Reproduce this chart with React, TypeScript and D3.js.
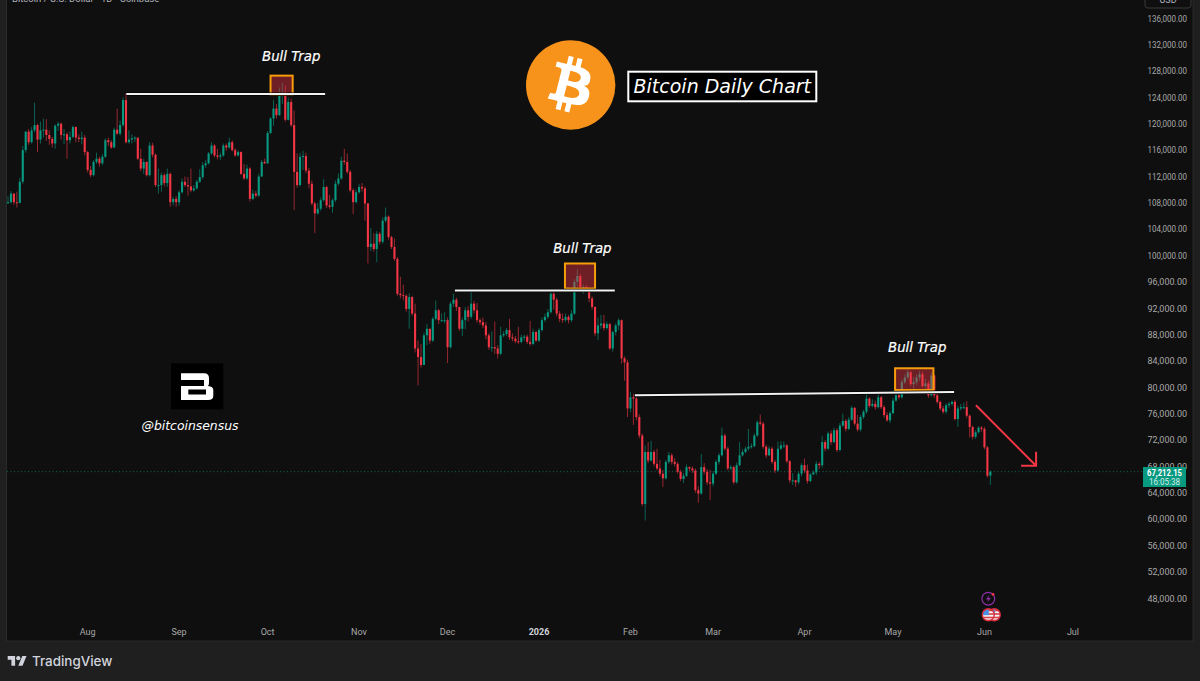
import React from "react";
import { scaleLinear, timeDay, format, range } from "d3";

// daily candles, in thousands of USD, first candle is 5 Jul 2025
const firstOpen = 108.0;
const closes = [
  108.1, 109.4, 108.1, 108.0, 111.2, 116.0, 118.8, 117.2, 119.0, 119.8,
  117.6, 119.0, 119.1, 118.3, 117.7, 117.0, 119.7, 120.0, 118.3, 118.4,
  117.5, 118.0, 119.5, 117.9, 117.7, 117.9, 115.7, 113.0, 112.2, 114.2,
  114.7, 114.0, 115.0, 117.5, 117.2, 116.4, 119.1, 118.5, 119.8, 123.6,
  117.2, 117.6, 117.8, 117.9, 114.7, 113.2, 114.2, 112.2, 116.7, 115.3,
  110.7, 110.7, 112.2, 111.0, 112.4, 108.1, 108.6, 108.1, 109.6, 111.2,
  110.7, 110.5, 109.9, 110.2, 111.2, 111.9, 113.7, 114.0, 115.5, 116.7,
  115.2, 115.0, 115.2, 116.7, 116.4, 117.2, 116.0, 115.2, 115.7, 112.4,
  111.7, 113.2, 108.6, 109.4, 109.1, 112.0, 114.2, 114.0, 118.6, 120.8,
  122.3, 121.3, 124.3, 124.8, 120.6, 123.3, 119.8, 112.7, 110.7, 115.0,
  115.1, 112.9, 110.9, 107.9, 106.4, 107.1, 108.4, 110.4, 107.6, 107.4,
  108.4, 110.9, 111.7, 114.4, 114.2, 112.7, 109.9, 108.1, 109.6, 110.4,
  110.2, 107.9, 101.3, 101.8, 101.0, 103.3, 102.1, 105.3, 105.9, 102.8,
  101.3, 99.5, 94.2, 94.0, 93.9, 91.9, 93.7, 91.2, 85.9, 84.6,
  83.4, 87.9, 88.9, 87.1, 90.4, 91.7, 90.2, 90.2, 90.2, 86.1,
  92.7, 93.3, 92.2, 88.9, 90.2, 91.7, 90.7, 92.7, 91.7, 90.2,
  89.9, 89.4, 87.9, 86.1, 86.1, 85.9, 85.1, 87.9, 88.1, 88.7,
  87.6, 87.4, 87.0, 86.9, 87.6, 87.7, 86.9, 86.6, 88.4, 87.1,
  88.7, 90.2, 90.7, 91.4, 94.2, 93.3, 91.2, 90.4, 90.2, 90.7,
  90.2, 91.2, 96.0, 96.9, 95.2, 95.2, 95.0, 93.5, 92.2, 88.2,
  89.4, 89.7, 89.0, 89.6, 85.9, 88.4, 89.4, 90.2, 84.4, 83.8,
  76.8, 78.5, 78.3, 75.5, 72.7, 62.3, 70.2, 68.9, 70.2, 68.4,
  67.7, 66.9, 66.2, 68.7, 69.7, 68.7, 68.4, 67.2, 66.1, 66.6,
  67.9, 67.7, 67.4, 64.4, 63.9, 67.9, 67.2, 65.6, 65.4, 66.9,
  68.7, 69.7, 72.7, 70.7, 67.7, 67.9, 65.6, 68.2, 69.7, 70.2,
  70.7, 71.0, 71.1, 72.7, 74.7, 74.5, 71.0, 69.7, 70.7, 68.7,
  67.4, 70.7, 71.2, 71.2, 68.8, 65.9, 65.9, 65.6, 66.9, 68.2,
  67.4, 65.8, 66.8, 67.1, 68.4, 68.2, 71.7, 70.7, 73.0, 71.7,
  73.5, 70.5, 74.2, 74.9, 73.7, 75.1, 76.9, 74.5, 73.6, 75.5,
  76.3, 78.3, 77.2, 77.5, 77.0, 78.5, 77.0, 75.8, 75.0, 76.1,
  78.0, 78.8, 78.5, 80.8, 81.5, 82.3, 80.5, 80.8, 81.5, 82.0,
  80.2, 80.6, 78.8, 81.8, 78.8, 77.8, 76.8, 76.3, 77.3, 77.5,
  77.8, 75.2, 76.8, 77.0, 77.0, 75.7, 74.0, 72.5, 73.2, 73.9,
  73.7, 70.9, 66.6, 67.212,
];
const highs = [
  109.0, 109.8, 109.5, 109.7, 111.8, 116.6, 118.9, 119.2, 119.5, 123.2,
  120.0, 120.3, 120.8, 120.7, 119.0, 118.0, 119.9, 120.3, 120.2, 119.2,
  118.7, 118.8, 119.7, 119.6, 118.4, 118.8, 118.3, 115.9, 113.6, 114.5,
  115.6, 115.0, 115.4, 117.8, 117.9, 117.5, 119.4, 122.3, 120.5, 124.0,
  124.6, 119.0, 118.4, 118.1, 117.7, 116.2, 114.7, 114.3, 117.2, 117.1,
  115.5, 113.2, 112.6, 112.5, 113.2, 112.6, 108.9, 109.0, 109.9, 111.7,
  112.0, 111.9, 113.2, 110.7, 111.5, 113.1, 114.2, 114.5, 115.7, 117.2,
  116.9, 116.2, 115.6, 117.0, 117.0, 117.9, 117.5, 116.3, 116.0, 115.8,
  113.9, 113.8, 113.4, 110.0, 109.8, 112.4, 114.5, 114.7, 118.9, 121.0,
  123.6, 123.0, 125.5, 126.2, 125.8, 124.0, 123.8, 122.0, 115.5, 115.6,
  115.9, 115.6, 113.3, 111.4, 108.2, 108.0, 108.8, 111.6, 110.6, 109.2,
  108.7, 111.4, 112.5, 115.0, 116.2, 115.5, 113.0, 110.2, 110.0, 110.9,
  111.0, 110.5, 108.0, 104.2, 103.4, 103.7, 103.6, 105.8, 107.3, 106.1,
  103.0, 102.6, 99.8, 96.8, 95.6, 94.1, 94.3, 93.9, 92.7, 87.1,
  86.6, 88.3, 89.6, 88.2, 90.7, 93.2, 91.9, 91.2, 91.4, 90.6,
  93.0, 94.2, 93.6, 92.0, 90.6, 92.2, 92.3, 94.5, 93.1, 92.8,
  90.5, 90.6, 89.9, 88.2, 88.5, 90.0, 86.4, 89.2, 88.5, 89.0,
  90.4, 88.2, 87.8, 89.2, 88.0, 88.0, 88.0, 90.1, 88.9, 88.6,
  89.0, 90.6, 91.2, 91.9, 94.8, 94.6, 93.6, 91.6, 91.2, 91.2,
  91.0, 91.7, 96.4, 97.9, 97.2, 95.6, 95.5, 95.2, 93.8, 92.3,
  90.6, 91.0, 91.0, 90.0, 89.8, 88.6, 89.7, 90.5, 90.3, 84.7,
  84.2, 79.3, 79.0, 79.0, 75.9, 73.0, 71.2, 71.7, 71.9, 70.5,
  70.7, 69.0, 67.5, 69.0, 70.2, 70.0, 69.3, 68.7, 67.5, 67.0,
  68.3, 68.0, 68.0, 67.7, 65.0, 69.9, 68.5, 67.6, 67.5, 67.3,
  69.0, 70.0, 73.9, 73.0, 71.0, 68.2, 68.1, 68.6, 71.7, 70.6,
  71.0, 73.7, 71.5, 73.0, 75.0, 75.9, 74.8, 71.3, 71.1, 71.0,
  69.0, 71.8, 71.8, 71.8, 71.4, 69.0, 67.0, 66.0, 67.2, 68.5,
  69.2, 68.3, 67.0, 67.4, 68.8, 68.7, 72.6, 72.0, 73.3, 73.5,
  73.9, 73.8, 74.6, 76.0, 75.2, 75.5, 77.2, 77.0, 75.8, 75.8,
  76.6, 79.3, 78.5, 78.2, 78.0, 79.3, 78.7, 77.3, 76.2, 76.4,
  78.4, 79.1, 79.5, 81.2, 82.0, 82.7, 82.5, 81.6, 82.0, 82.5,
  82.4, 81.3, 81.0, 82.3, 82.0, 79.0, 78.0, 77.2, 77.6, 77.8,
  78.0, 78.1, 77.2, 77.5, 77.7, 77.9, 75.9, 74.2, 73.5, 74.1,
  74.1, 74.0, 71.1, 67.4,
];
const lows = [
  107.8, 107.9, 107.7, 107.3, 107.9, 110.9, 115.6, 116.8, 117.0, 118.7,
  115.7, 117.0, 117.9, 117.4, 116.8, 116.4, 116.2, 118.9, 117.6, 116.9,
  114.7, 117.0, 117.8, 117.2, 117.2, 116.9, 115.2, 112.6, 111.9, 112.0,
  113.9, 113.5, 113.7, 114.8, 116.6, 116.2, 116.3, 118.3, 118.2, 119.5,
  117.0, 117.0, 117.0, 117.2, 114.5, 112.8, 112.4, 112.0, 112.0, 114.9,
  110.4, 109.4, 109.7, 110.5, 110.4, 107.4, 107.6, 107.4, 107.6, 109.4,
  110.4, 109.1, 109.6, 109.7, 110.0, 111.0, 111.6, 113.3, 113.8, 115.3,
  114.9, 114.6, 114.5, 115.0, 115.9, 116.2, 115.8, 115.0, 115.0, 112.2,
  111.5, 111.5, 108.2, 108.4, 108.8, 108.9, 111.9, 113.9, 113.9, 118.4,
  119.7, 120.8, 121.2, 123.0, 120.3, 120.5, 119.5, 106.9, 110.3, 110.5,
  113.0, 112.5, 110.2, 107.6, 103.4, 106.2, 106.8, 108.2, 107.2, 107.1,
  106.5, 108.1, 110.6, 111.5, 113.8, 112.4, 109.6, 106.3, 107.9, 109.4,
  109.7, 105.3, 98.8, 100.7, 100.6, 99.0, 101.7, 101.8, 105.0, 102.4,
  101.0, 99.2, 93.9, 93.5, 93.2, 91.5, 88.9, 90.9, 85.3, 80.3,
  83.0, 84.4, 86.4, 86.6, 86.9, 90.2, 89.6, 89.9, 89.7, 83.7,
  85.9, 92.2, 91.6, 88.6, 87.8, 88.8, 90.0, 90.4, 91.2, 89.8,
  89.5, 89.0, 87.3, 85.7, 85.4, 85.1, 84.4, 84.9, 87.6, 87.8,
  87.2, 87.0, 86.7, 86.6, 86.7, 87.1, 86.6, 86.3, 86.4, 86.9,
  86.9, 88.5, 89.9, 90.4, 91.2, 91.8, 90.8, 89.9, 89.8, 89.9,
  89.7, 89.9, 91.0, 95.3, 94.8, 94.2, 94.5, 92.9, 91.8, 87.8,
  87.2, 88.9, 88.6, 88.8, 85.7, 85.4, 87.9, 88.7, 83.6, 81.0,
  75.5, 76.2, 74.3, 75.0, 72.3, 62.0, 59.8, 68.5, 68.7, 68.0,
  67.4, 66.5, 64.9, 66.0, 68.4, 68.3, 68.0, 66.9, 65.8, 65.5,
  66.4, 67.3, 67.0, 64.0, 62.5, 63.7, 66.8, 65.2, 62.9, 65.0,
  66.7, 68.3, 69.5, 70.4, 67.4, 67.4, 65.3, 65.4, 68.0, 69.5,
  70.0, 70.4, 70.7, 70.9, 72.5, 74.2, 70.7, 69.3, 69.6, 68.4,
  67.0, 67.2, 70.5, 70.8, 68.5, 65.5, 65.2, 64.9, 65.3, 66.5,
  67.0, 65.4, 65.6, 66.7, 66.7, 67.6, 67.8, 70.3, 70.5, 71.3,
  71.5, 70.2, 70.3, 74.0, 73.3, 73.5, 74.9, 74.2, 73.3, 73.3,
  75.2, 76.0, 76.9, 77.0, 76.6, 76.8, 76.7, 75.4, 74.8, 74.6,
  75.9, 77.8, 78.2, 78.3, 80.5, 81.2, 80.2, 79.7, 80.4, 81.0,
  80.0, 79.8, 78.4, 78.6, 78.4, 77.5, 76.5, 76.0, 76.0, 76.9,
  77.2, 75.0, 74.0, 76.5, 76.7, 75.4, 72.4, 72.1, 72.2, 73.0,
  73.3, 70.6, 66.3, 65.2,
];
const priceTicks = range(48, 137, 4);
const months = [
  { label: "Aug", date: new Date(2025, 7, 1) },
  { label: "Sep", date: new Date(2025, 8, 1) },
  { label: "Oct", date: new Date(2025, 9, 1) },
  { label: "Nov", date: new Date(2025, 10, 1) },
  { label: "Dec", date: new Date(2025, 11, 1) },
  { label: "2026", date: new Date(2026, 0, 1), bold: true },
  { label: "Feb", date: new Date(2026, 1, 1) },
  { label: "Mar", date: new Date(2026, 2, 1) },
  { label: "Apr", date: new Date(2026, 3, 1) },
  { label: "May", date: new Date(2026, 4, 1) },
  { label: "Jun", date: new Date(2026, 5, 1) },
  { label: "Jul", date: new Date(2026, 6, 1) },
];
const lastPrice = 67.212;
const lastPriceLabel = "67,212.15";
const countdown = "16:05:38";
// drawings, placed in candle index / price
const levels = [
  { from: 40.1, to: 107.5, p0: 124.5, p1: 124.5 },
  { from: 151.5, to: 205.7, p0: 94.7, p1: 94.7 },
  { from: 212.5, to: 320.7, p0: 78.8, p1: 79.3 },
];
const traps = [
  { from: 89, to: 96.5, hi: 127.3, lo: 124.4, lx: 96, lp: 129.5 },
  { from: 188.8, to: 199, hi: 98.8, lo: 95.0, lx: 194.7, lp: 100.4 },
  { from: 300.7, to: 313.7, hi: 82.9, lo: 79.6, lx: 308.2, lp: 85.4 },
];
const drop = { from: 328.1, to: 348.5, p0: 77.3, p1: 68.1 };

const START = new Date(2025, 6, 5);
const x = scaleLinear().domain([0, 361]).range([8, 8 + 361 * 2.95]);
const y = scaleLinear().domain([136, 48]).range([18.3, 598.3]);
const UP = "#089981";
const DOWN = "#f23645";
const fmt = format(",.2f");
const ITALIC = "'DejaVu Sans', sans-serif";

const BTC_B =
  "M46.103,27.444c0.637-4.258-2.605-6.547-7.038-8.074l1.438-5.768l-3.511-0.875l-1.4,5.616c-0.923-0.23-1.871-0.447-2.813-0.662l1.41-5.653l-3.509-0.875l-1.439,5.766c-0.764-0.174-1.514-0.348-2.242-0.529l0.004-0.018l-4.842-1.209l-0.934,3.75c0,0,2.605,0.597,2.55,0.634c1.422,0.355,1.679,1.296,1.636,2.042l-1.638,6.571c0.098,0.025,0.225,0.061,0.365,0.117c-0.117-0.029-0.242-0.059-0.371-0.09l-2.296,9.205c-0.174,0.432-0.615,1.08-1.609,0.834c0.035,0.051-2.552-0.637-2.552-0.637l-1.743,4.019l4.569,1.139c0.85,0.213,1.683,0.436,2.503,0.646l-1.453,5.834l3.507,0.875l1.439-5.772c0.958,0.26,1.888,0.5,2.798,0.732l-1.434,5.745l3.511,0.875l1.453-5.823c5.987,1.133,10.489,0.676,12.384-4.739c1.527-4.36-0.076-6.875-3.226-8.515C44.036,32.8,45.782,31.118,46.103,27.444L46.103,27.444z M38.081,38.693c-1.085,4.36-8.426,2.003-10.806,1.412l1.928-7.729C31.583,32.97,39.214,34.143,38.081,38.693z M39.167,27.381c-0.99,3.966-7.1,1.951-9.082,1.457l1.748-7.01C33.815,22.322,40.205,23.246,39.167,27.381z";

const Flag = ({ cx, cy, id }: { cx: number; cy: number; id: string }) => (
  <g>
    <clipPath id={id}>
      <circle cx={cx} cy={cy} r={6} />
    </clipPath>
    <g clipPath={`url(#${id})`}>
      <rect x={cx - 6} y={cy - 6} width={12} height={12} fill="#f4f4f4" />
      {[-5, -1.5, 2, 5].map((d) => (
        <rect key={d} x={cx - 6} y={cy + d} width={12} height={1.6} fill="#d8404a" />
      ))}
      <rect x={cx - 6} y={cy - 6} width={6.5} height={6.5} fill="#4a8fe0" />
    </g>
    <circle cx={cx} cy={cy} r={6} fill="none" stroke="#d92b3a" strokeWidth={1.4} />
  </g>
);

const App = () => {
  const candles = closes.map((c, i) => {
    const o = i === 0 ? firstOpen : closes[i - 1];
    return { i, o, c, h: Math.max(highs[i], o, c), l: Math.min(lows[i], o, c) };
  });
  return (
    <div>
      <style>{"body{margin:0;background:#1f1f1f}"}</style>
      <svg width={1200} height={681} style={{ display: "block" }} fontFamily="Roboto, sans-serif">
        <rect width={1200} height={681} fill="#1f1f1f" />
        <rect x={6.5} y={-2} width={1186.5} height={643} fill="#0f0f0f" stroke="#2b2b2b" />

        <text x={12} y={1.5} fontSize={9.5} fill="#b2b5be">
          Bitcoin / U.S. Dollar · 1D · Coinbase
        </text>
        <rect x={1145} y={-12} width={46} height={20} rx={3} fill="none" stroke="#3a3a3a" />
        <text x={1168} y={3} fontSize={9} fill="#b2b5be" textAnchor="middle">
          USD
        </text>

        {/* price axis */}
        {priceTicks.map((p) => (
          <text key={p} x={1187} y={y(p) + 3.2} fontSize={9} fill="#a8a8a8" textAnchor="end" textLength={39.5} lengthAdjust="spacingAndGlyphs">
            {fmt(p * 1000)}
          </text>
        ))}
        {/* time axis */}
        {months.map((m) => (
          <text
            key={m.label}
            x={x(timeDay.count(START, m.date))}
            y={635}
            fontSize={9}
            fontWeight={m.bold ? 700 : 400}
            fill={m.bold ? "#d1d4dc" : "#a8a8a8"}
            textAnchor="middle"
          >
            {m.label}
          </text>
        ))}

        {/* last price line */}
        <line x1={7} x2={1143} y1={y(lastPrice)} y2={y(lastPrice)} stroke={UP} strokeWidth={0.8} strokeDasharray="1 2.5" opacity={0.8} />

        {/* candles */}
        {candles.map((d) => {
          const color = d.c >= d.o ? UP : DOWN;
          const top = y(Math.max(d.o, d.c));
          const bot = y(Math.min(d.o, d.c));
          return (
            <g key={d.i}>
              <line x1={x(d.i)} x2={x(d.i)} y1={y(d.h)} y2={y(d.l)} stroke={color} strokeWidth={1} opacity={0.6} />
              <rect x={x(d.i) - 1.05} width={2.1} y={top} height={Math.max(bot - top, 1)} fill={color} />
            </g>
          );
        })}

        {/* bull trap boxes */}
        {traps.map((t) => (
          <g key={t.lx}>
            <rect x={x(t.from)} width={x(t.to) - x(t.from)} y={y(t.hi)} height={y(t.lo) - y(t.hi)} fill="rgba(242,54,69,0.42)" stroke="#f59d0b" strokeWidth={2} />
            <text x={x(t.lx)} y={y(t.lp)} fontSize={13.3} fontStyle="italic" fontFamily={ITALIC} fill="#fff" stroke="#fff" strokeWidth={0.2} textAnchor="middle">
              Bull Trap
            </text>
          </g>
        ))}
        {/* levels */}
        {levels.map((l) => (
          <g key={l.from}>
            <line x1={x(l.from)} x2={x(l.to)} y1={y(l.p0)} y2={y(l.p1)} stroke="#000" strokeWidth={3.4} />
            <line x1={x(l.from)} x2={x(l.to)} y1={y(l.p0)} y2={y(l.p1)} stroke="#f2f2f2" strokeWidth={2} />
          </g>
        ))}
        {/* arrow */}
        <path
          d={`M${x(drop.from)},${y(drop.p0)}L${x(drop.to)},${y(drop.p1)}M${x(drop.to)},${y(drop.p1) - 14}V${y(drop.p1)}H${x(drop.to) - 15}`}
          fill="none"
          stroke={DOWN}
          strokeWidth={2}
        />

        {/* last price tag */}
        <rect x={1143} y={467} width={43} height={20} fill={UP} />
        <text x={1164.5} y={476} fontSize={9} fontWeight={700} fill="#fff" textAnchor="middle" textLength={35} lengthAdjust="spacingAndGlyphs">
          {lastPriceLabel}
        </text>
        <text x={1164.5} y={485} fontSize={9} fill="#d6efe9" textAnchor="middle" textLength={31} lengthAdjust="spacingAndGlyphs">
          {countdown}
        </text>

        {/* bitcoin logo and title */}
        <circle cx={570.7} cy={85} r={44.7} fill="#f7931a" />
        <path d={BTC_B} fill="#fff" transform="translate(526,40.3) scale(1.396)" />
        <rect x={628.3} y={71.7} width={188} height={29.6} fill="#000" stroke="#fff" strokeWidth={2} />
        <text x={722.3} y={93.3} fontSize={19} fontStyle="italic" fontFamily={ITALIC} fill="#fff" textAnchor="middle">
          Bitcoin Daily Chart
        </text>

        {/* watermark */}
        <rect x={171} y={363.3} width={52.3} height={46} fill="#000" />
        <path
          fillRule="evenodd"
          fill="#fff"
          d="M181,373.3H204Q209,373.3 209,378V383Q209,385 208,386Q213.3,386.5 213.3,390V396Q213.3,400 208,400H181V386H204V380H181Z M188.3,389.4V394.4H206V389.4Z"
        />
        <text x={190} y={429.5} fontSize={12.4} fontStyle="italic" fontFamily={ITALIC} fill="#fff" textAnchor="middle">
          @bitcoinsensus
        </text>

        {/* event icons */}
        <circle cx={988.3} cy={598.7} r={6.4} fill="#0f0f0f" stroke="#8e2fa8" strokeWidth={1.2} />
        <path d="M989.6,594.6L986,599.4H988.4L987.2,602.8L990.8,598H988.4Z" fill="#8e2fa8" />
        <circle cx={993} cy={594.4} r={1.4} fill="#f23645" />
        <Flag cx={994.3} cy={614.7} id="flag-b" />
        <Flag cx={988.3} cy={614.7} id="flag-a" />

        {/* footer logo */}
        <g transform="translate(7.7,654) scale(0.53)" fill="#d1d4dc">
          <path d="M14 22H7V11H0V4h14v18zM28 22h-8l7.5-18h8L28 22z" />
          <circle cx={20} cy={8} r={4} />
        </g>
        <text x={32} y={666} fontSize={13.4} fontWeight={500} fontFamily="Inter, sans-serif" fill="#d1d4dc">
          TradingView
        </text>
      </svg>
    </div>
  );
};

export default App;
